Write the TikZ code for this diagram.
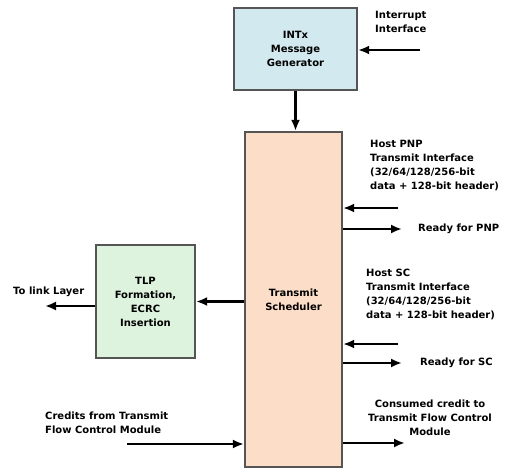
\documentclass[tikz,border=0pt]{standalone}
\usepackage{fontspec}
\setmainfont{DejaVu Sans}
\usetikzlibrary{arrows.meta}
\definecolor{intblue}{RGB}{211,233,240}
\definecolor{schedpeach}{RGB}{252,222,200}
\definecolor{tlpgreen}{RGB}{222,243,222}
\definecolor{boxedge}{RGB}{85,85,85}
\begin{document}
\begin{tikzpicture}[x=1pt,y=-1pt,font=\fontsize{10}{14}\selectfont\bfseries,
  blk/.style={draw=boxedge,line width=2.2pt,align=center,inner sep=0pt},
  sig/.style={-{Latex[length=11pt,width=9pt]},line width=2.6pt},
  txt/.style={align=left,anchor=west,inner sep=0pt}]
\useasboundingbox (0,0) rectangle (508,468);
\node[blk,fill=intblue,minimum width=123pt,minimum height=82pt] (int) at (295.5,49) {INTx\\Message\\Generator};
\node[blk,fill=schedpeach,minimum width=97pt,minimum height=335pt] (sched) at (293.5,299.5) {Transmit\\Scheduler};
\node[blk,fill=tlpgreen,minimum width=99pt,minimum height=113pt] (tlp) at (145.5,301.5) {TLP\\Formation,\\ECRC\\Insertion};
\node[txt] (irqlbl) at (375,22) {Interrupt\\Interface};
\node[txt] (pnplbl) at (370,166) {Host PNP\\Transmit Interface\\(32/64/128/256-bit\\data + 128-bit header)};
\node[txt] (pnprdy) at (418,229) {Ready for PNP};
\node[txt] (sclbl) at (366,294) {Host SC\\Transmit Interface\\(32/64/128/256-bit\\data + 128-bit header)};
\node[txt] (scrdy) at (420,363) {Ready for SC};
\node[txt] (linklbl) at (13,292) {To link Layer};
\node[txt] (credlbl) at (45,423) {Credits from Transmit\\Flow Control Module};
\node[align=center,inner sep=0pt] (conslbl) at (430,418) {Consumed credit to\\Transmit Flow Control\\Module};
\coordinate (irqin) at (420,50);
\coordinate (pnpin) at (398,208);
\coordinate (pnpout) at (402,229);
\coordinate (scin) at (398,344);
\coordinate (scout) at (402,363);
\coordinate (linkout) at (45,306);
\coordinate (credin) at (127,444);
\coordinate (consout) at (405,443);
\draw[sig] (irqin) -- (irqin -| int.east);
\draw[sig] (int.south) -- (int.south |- sched.north);
\draw[sig] (pnpin) -- (pnpin -| sched.east);
\draw[sig] (pnpout -| sched.east) -- (pnpout);
\draw[sig] (scin) -- (scin -| sched.east);
\draw[sig] (scout -| sched.east) -- (scout);
\draw[sig] (sched.west |- tlp.east) -- (tlp.east);
\draw[sig] (linkout -| tlp.west) -- (linkout);
\draw[sig] (credin) -- (credin -| sched.west);
\draw[sig] (consout -| sched.east) -- (consout);
\end{tikzpicture}
\end{document}
